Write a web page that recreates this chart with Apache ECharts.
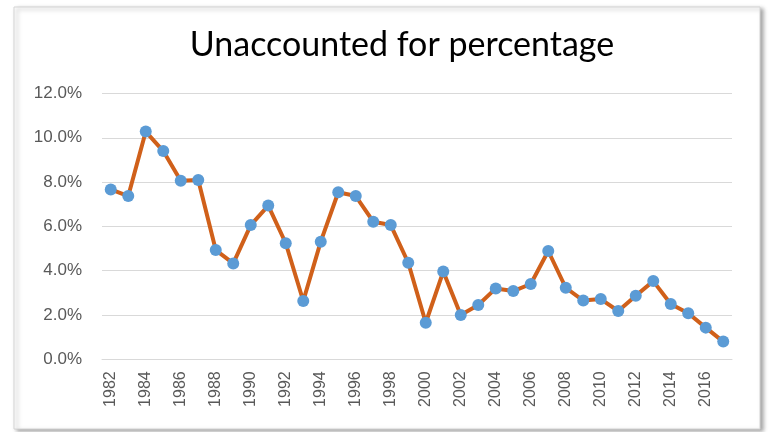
<!DOCTYPE html>
<html>
<head>
<meta charset="utf-8">
<script src="https://cdn.jsdelivr.net/npm/echarts@6/dist/echarts.min.js"></script>
<style>
  html, body { margin: 0; padding: 0; background: #fff; }
  #chart { width: 769px; height: 432px; }
</style>
</head>
<body>
<div id="chart"></div>
<script>
// years on the x axis
const years = ['1982','1983','1984','1985','1986','1987','1988','1989','1990','1991',
  '1992','1993','1994','1995','1996','1997','1998','1999','2000','2001',
  '2002','2003','2004','2005','2006','2007','2008','2009','2010','2011',
  '2012','2013','2014','2015','2016','2017'];

// unaccounted for percentage
const unaccounted = [7.67, 7.37, 10.28, 9.40, 8.06, 8.09, 4.93, 4.33, 6.06, 6.94,
  5.24, 2.63, 5.31, 7.54, 7.37, 6.21, 6.06, 4.36, 1.65, 3.96,
  2.00, 2.45, 3.20, 3.08, 3.40, 4.89, 3.23, 2.65, 2.72, 2.18,
  2.87, 3.53, 2.50, 2.08, 1.43, 0.80];

const titleText = 'Unaccounted for percentage';

const chart = echarts.init(document.getElementById('chart'));

const option = {
  animation: false,
  backgroundColor: '#fff',
  graphic: [
    {
      type: 'rect',
      z: -10,
      shape: { x: 14, y: 7, width: 746, height: 422 },
      style: {
        fill: '#fff',
        stroke: '#d4d4d4',
        lineWidth: 1,
        shadowColor: 'rgba(0,0,0,0.35)',
        shadowBlur: 4,
        shadowOffsetX: 3,
        shadowOffsetY: 2
      }
    }
  ],
  title: {
    text: titleText,
    left: 397,
    top: 23,
    textAlign: 'center',
    textStyle: {
      fontFamily: 'Lato',
      fontWeight: 'normal',
      fontSize: 34,
      color: '#000'
    }
  },
  grid: {
    left: 102,
    right: 37,
    top: 93.5,
    bottom: 72.7
  },
  xAxis: {
    type: 'category',
    data: years,
    boundaryGap: true,
    axisLine: { lineStyle: { color: '#d9d9d9', width: 1 } },
    axisTick: { show: false },
    axisLabel: {
      interval: 1,
      rotate: 90,
      margin: 12,
      fontSize: 16,
      fontFamily: 'Liberation Sans',
      color: '#595959'
    }
  },
  yAxis: {
    type: 'value',
    min: 0,
    max: 12,
    interval: 2,
    axisLine: { show: false },
    axisTick: { show: false },
    splitLine: { lineStyle: { color: '#d9d9d9', width: 1 } },
    axisLabel: {
      margin: 20,
      fontSize: 17,
      fontFamily: 'Liberation Sans',
      color: '#595959',
      formatter: v => v.toFixed(1) + '%'
    }
  },
  series: [
    {
      type: 'line',
      data: unaccounted,
      symbol: 'circle',
      symbolSize: 12,
      showAllSymbol: true,
      lineStyle: { color: '#d0601a', width: 4 },
      itemStyle: { color: '#5b9bd5' }
    }
  ]
};

chart.setOption(option);
</script>
</body>
</html>
